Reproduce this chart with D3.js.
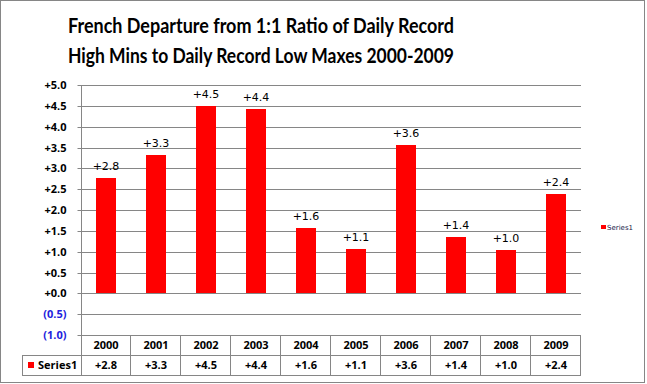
<!DOCTYPE html>
<html>
<head>
<meta charset="utf-8">
<script src="https://cdn.jsdelivr.net/npm/d3@7"></script>
<style>
  body { margin: 0; background: #fff; }
  svg { display: block; }
</style>
</head>
<body>
<div id="chart"></div>
<script>
// Departure from 1:1 ratio chart, Excel look with data table

// Data
const years = ['2000', '2001', '2002', '2003', '2004', '2005', '2006', '2007', '2008', '2009']
const values = [2.76, 3.31, 4.49, 4.42, 1.56, 1.06, 3.56, 1.36, 1.04, 2.38]
const seriesName = 'Series1'
const yTicks = [-1.0, -0.5, 0.0, 0.5, 1.0, 1.5, 2.0, 2.5, 3.0, 3.5, 4.0, 4.5, 5.0]
const titleLines = [
  'French Departure from 1:1 Ratio of Daily Record',
  'High Mins to Daily Record Low Maxes 2000-2009'
]

// Layout
const width = 647
const height = 384
const plot = { left: 81, right: 581, top: 85, bottom: 335 }
const rowH = 20
const tableLeft = 22
const gridColor = '#868686'
const barColor = '#ff0000'

const fmt = (v) => v < 0 ? `(${Math.abs(v).toFixed(1)})` : `+${v.toFixed(1)}`

const svg = d3.select('#chart')
  .append('svg')
  .attr('width', width)
  .attr('height', height)

// Chart border
svg.append('rect')
  .attr('x', 0.5)
  .attr('y', 0.5)
  .attr('width', 644)
  .attr('height', 382)
  .attr('fill', '#fff')
  .attr('stroke', gridColor)

// Title
svg.append('g')
  .selectAll('text')
  .data(titleLines)
  .join('text')
  .attr('x', 261)
  .attr('y', (d, i) => 33 + i * 30)
  .attr('text-anchor', 'middle')
  .attr('textLength', 386)
  .attr('lengthAdjust', 'spacingAndGlyphs')
  .style('font-family', 'Lato, "Open Sans", sans-serif')
  .style('font-weight', 'bold')
  .style('font-size', '20px')
  .text((d) => d)

// Scales
const y = d3.scaleLinear()
  .domain([yTicks[0], yTicks[yTicks.length - 1]])
  .rangeRound([plot.bottom, plot.top])

const x = d3.scaleBand()
  .domain(years)
  .range([plot.left, plot.right])
  .paddingInner(0.6)
  .paddingOuter(0.3)

// Gridlines
svg.append('g')
  .attr('class', 'grid')
  .selectAll('line')
  .data(yTicks)
  .join('line')
  .attr('x1', plot.left)
  .attr('x2', plot.right)
  .attr('y1', (d) => y(d) + 0.5)
  .attr('y2', (d) => y(d) + 0.5)
  .attr('stroke', gridColor)

// Y axis
const yAxis = svg.append('g')
  .attr('transform', `translate(${plot.left + 0.5},0)`)
  .call(d3.axisLeft(y).tickValues(yTicks).tickSize(4).tickPadding(11).tickFormat(fmt))

yAxis.select('.domain').remove()
yAxis.selectAll('.tick line').attr('stroke', gridColor)
yAxis.selectAll('.tick text')
  .attr('fill', (d) => d < 0 ? '#2222dd' : '#000')
  .style('font-family', '"Open Sans", sans-serif')
  .style('font-weight', 'bold')
  .style('font-size', '11px')

// Bars
svg.append('g')
  .selectAll('rect')
  .data(values)
  .join('rect')
  .attr('x', (d, i) => x(years[i]))
  .attr('y', (d) => y(Math.max(0, d)))
  .attr('width', x.bandwidth())
  .attr('height', (d) => Math.abs(y(d) - y(0)))
  .attr('fill', barColor)

// Data labels
svg.append('g')
  .selectAll('text')
  .data(values)
  .join('text')
  .attr('x', (d, i) => x(years[i]) + x.bandwidth() / 2)
  .attr('y', (d) => y(d) - 8)
  .attr('text-anchor', 'middle')
  .style('font-family', '"DejaVu Sans", sans-serif')
  .style('font-size', '11px')
  .text(fmt)

// Data table
const table = svg.append('g').attr('class', 'table')
const rowTop = plot.bottom
const bounds = d3.range(years.length + 1).map((i) => plot.left + i * x.step())

// vertical axis line from plot top through the table
table.append('line')
  .attr('x1', plot.left + 0.5).attr('x2', plot.left + 0.5)
  .attr('y1', plot.top).attr('y2', rowTop + 2 * rowH + 0.5)
  .attr('stroke', gridColor)

table.selectAll('line.col')
  .data(bounds.slice(1))
  .join('line')
  .attr('class', 'col')
  .attr('x1', (d) => Math.round(d) - 0.5).attr('x2', (d) => Math.round(d) - 0.5)
  .attr('y1', rowTop).attr('y2', rowTop + 2 * rowH + 0.5)
  .attr('stroke', gridColor)

table.selectAll('line.row')
  .data([1, 2])
  .join('line')
  .attr('class', 'row')
  .attr('x1', tableLeft).attr('x2', plot.right)
  .attr('y1', (d) => rowTop + d * rowH + 0.5)
  .attr('y2', (d) => rowTop + d * rowH + 0.5)
  .attr('stroke', gridColor)

table.append('line')
  .attr('x1', tableLeft + 0.5).attr('x2', tableLeft + 0.5)
  .attr('y1', rowTop + rowH).attr('y2', rowTop + 2 * rowH + 0.5)
  .attr('stroke', gridColor)

const cellText = (sel) => sel
  .style('font-family', '"Open Sans", sans-serif')
  .style('font-weight', 'bold')
  .style('font-size', '11px')

table.selectAll('text.year')
  .data(years)
  .join('text')
  .attr('class', 'year')
  .attr('x', (d) => x(d) + x.bandwidth() / 2)
  .attr('y', rowTop + 14)
  .attr('text-anchor', 'middle')
  .call(cellText)
  .text((d) => d)

table.selectAll('text.val')
  .data(values)
  .join('text')
  .attr('class', 'val')
  .attr('x', (d, i) => x(years[i]) + x.bandwidth() / 2)
  .attr('y', rowTop + rowH + 14)
  .attr('text-anchor', 'middle')
  .call(cellText)
  .text(fmt)

table.append('rect')
  .attr('x', 28).attr('y', rowTop + rowH + 7)
  .attr('width', 6).attr('height', 6)
  .attr('fill', barColor)

table.append('text')
  .attr('x', 38)
  .attr('y', rowTop + rowH + 14)
  .call(cellText)
  .text(seriesName)

// Legend
const legend = svg.append('g').attr('transform', 'translate(601,225)')
legend.append('rect')
  .attr('width', 5).attr('height', 4)
  .attr('fill', barColor)
legend.append('text')
  .attr('x', 6)
  .attr('y', 4.5)
  .style('font-family', '"DejaVu Sans", sans-serif')
  .style('font-size', '7px')
  .attr('fill', '#1a1a4a')
  .text(seriesName)
</script>
</body>
</html>
